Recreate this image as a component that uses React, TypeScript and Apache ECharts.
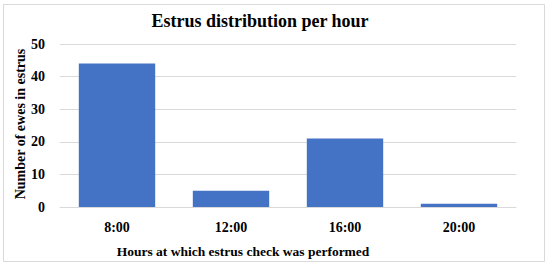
import React, { useEffect, useRef } from "react";
import * as echarts from "echarts";

const categories = ["8:00", "12:00", "16:00", "20:00"];
const ewesInEstrus = [44, 5, 21, 1];
const yTicks = [0, 10, 20, 30, 40, 50];

const FONT = "'Liberation Serif', 'DejaVu Serif', serif";

export default function App() {
  const ref = useRef<HTMLDivElement>(null);
  useEffect(() => {
    if (!ref.current) return;
    const chart = echarts.init(ref.current, undefined, { renderer: "svg" });
    chart.setOption({
      animation: false,
      backgroundColor: "#ffffff",
      grid: { left: 60, right: 34, top: 44, bottom: 61, containLabel: false },
      xAxis: {
        type: "category",
        data: categories,
        axisLine: { show: true, lineStyle: { color: "#d9d9d9", width: 1 } },
        axisTick: { show: false },
        axisLabel: {
          color: "#000",
          fontFamily: FONT,
          fontSize: 14,
          fontWeight: "bold",
          margin: 13,
        },
      },
      yAxis: {
        type: "value",
        min: yTicks[0],
        max: yTicks[yTicks.length - 1],
        interval: 10,
        axisLine: { show: false },
        axisTick: { show: false },
        splitLine: { lineStyle: { color: "#d9d9d9", width: 1 } },
        axisLabel: {
          color: "#000",
          fontFamily: FONT,
          fontSize: 14,
          fontWeight: "bold",
          margin: 15,
        },
      },
      series: [
        {
          type: "bar",
          data: ewesInEstrus,
          barWidth: "67%",
          itemStyle: { color: "#4472C4" },
        },
      ],
      graphic: [
        {
          type: "rect",
          shape: { x: 3.5, y: 4.5, width: 541, height: 257 },
          style: { fill: "none", stroke: "#d9d9d9", lineWidth: 1 },
          silent: true,
        },
        {
          type: "text",
          x: 260,
          y: 21,
          style: {
            text: "Estrus distribution per hour",
            fontFamily: FONT,
            fontSize: 18,
            fontWeight: "bold",
            fill: "#000",
            textAlign: "center",
            textVerticalAlign: "middle",
          },
        },
        {
          type: "text",
          x: 243,
          y: 251,
          style: {
            text: "Hours at which estrus check was performed",
            fontFamily: FONT,
            fontSize: 13.5,
            fontWeight: "bold",
            fill: "#000",
            textAlign: "center",
            textVerticalAlign: "middle",
          },
        },
        {
          type: "text",
          x: 20,
          y: 124,
          rotation: Math.PI / 2,
          style: {
            text: "Number of ewes in estrus",
            fontFamily: FONT,
            fontSize: 14,
            fontWeight: "bold",
            fill: "#000",
            textAlign: "center",
            textVerticalAlign: "middle",
          },
        },
      ],
    });
    return () => chart.dispose();
  }, []);
  return (
    <div
      ref={ref}
      style={{ position: "fixed", left: 0, top: 0, width: 550, height: 268 }}
    />
  );
}
